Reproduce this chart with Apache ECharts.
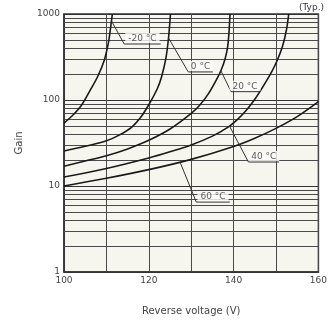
<!DOCTYPE html>
<html>
<head>
<meta charset="utf-8">
<script src="https://cdn.jsdelivr.net/npm/echarts@6.0.0/dist/echarts.min.js"></script>
<style>
html, body { margin: 0; padding: 0; background: #fff; }
#main { width: 330px; height: 329px; }
</style>
</head>
<body>
<div id="main"></div>
<script>
// curves (V, gain)
var voltM20 = [100, 102, 104, 106, 108, 109.5, 110.5, 111.0, 111.4];
var gainM20 = [54, 66, 85, 125, 190, 290, 470, 700, 1000];

var volt0 = [100, 105, 110, 113, 116, 118, 120, 122, 123, 124, 124.65, 125.1];
var gain0 = [25.5, 29, 33.5, 39, 48.5, 62, 88, 135, 185, 300, 526, 1000];

var volt20 = [100, 105, 110, 115, 120, 125, 130, 132, 134, 136, 137, 138, 138.6, 138.9, 139.15];
var gain20 = [17, 19.5, 22.5, 27, 34, 46, 70, 87, 117, 174, 219, 302, 417, 600, 1000];

var volt40 = [100, 110, 120, 125, 130, 135, 138.6, 141, 143, 145, 147, 149, 150.2, 151.5, 152.4, 153];
var gain40 = [12.7, 16, 21.2, 25, 30, 38, 48, 60, 76, 102, 145, 214, 282, 417, 630, 1000];

var volt60 = [100, 110, 120, 130, 140, 145, 150, 155, 160];
var gain60 = [10, 12.3, 15.5, 20.4, 28.8, 36, 46.8, 64, 95.5];

// callouts: leader from curve, corner, end of underline
var tempLabels = ['-20 °C', '0 °C', '20 °C', '40 °C', '60 °C'];
var leaderVolt = [[111.2, 114.2, 122.8], [124.65, 129.3, 135.1], [137.0, 139.4, 146.0], [139.0, 143.5, 150.7], [127.4, 131.2, 139.1]];
var leaderGain = [[830, 448, 448], [526, 212, 212], [219, 125, 125], [50, 19, 19], [18.8, 6.5, 6.5]];

var xLabels = [100, 120, 140, 160];
var yLabels = [1, 10, 100, 1000];

function zip(a, b) {
    var out = [];
    for (var i = 0; i < a.length; i++) out.push([a[i], b[i]]);
    return out;
}

// minor log grid lines 2..9 of every decade
var minorLines = [];
[1, 10, 100].forEach(function (d) {
    for (var k = 2; k <= 9; k++) minorLines.push({ yAxis: k * d });
});

var myChart = echarts.init(document.getElementById('main'));
var lineColor = '#4a4a4a';
var fontFam = 'DejaVu Sans';

var series = [];
series.push({
    type: 'line',
    data: [],
    z: 1,
    silent: true,
    markLine: {
        silent: true,
        symbol: ['none', 'none'],
        label: { show: false },
        lineStyle: { color: lineColor, width: 1, type: 'solid' },
        data: minorLines
    }
});

var curves = [[voltM20, gainM20], [volt0, gain0], [volt20, gain20], [volt40, gain40], [volt60, gain60]];
curves.forEach(function (c, i) {
    series.push({
        name: tempLabels[i],
        type: 'line',
        data: zip(c[0], c[1]),
        smooth: 0.35,
        symbol: 'none',
        z: 5,
        lineStyle: { color: '#1a1a1a', width: 1.6 }
    });
});

tempLabels.forEach(function (t, i) {
    series.push({
        type: 'line',
        data: zip(leaderVolt[i], leaderGain[i]),
        symbol: 'none',
        z: 6,
        lineStyle: { color: '#333', width: 1 }
    });
    var v = leaderVolt[i], g = leaderGain[i];
    series.push({
        type: 'scatter',
        symbolSize: 0,
        z: 7,
        data: [{ name: t, value: [(v[1] + v[2]) / 2, g[2]] }],
        label: {
            show: true,
            position: 'top',
            distance: 1,
            formatter: '{b}',
            color: '#333',
            fontSize: 9,
            fontFamily: fontFam,
            backgroundColor: '#fbfbf7',
            padding: [1, 3, 0, 3]
        }
    });
});

var option = {
    animation: false,
    title: {
        text: '(Typ.)',
        right: 1,
        top: -2,
        textStyle: { fontSize: 9, fontWeight: 'normal', color: '#334', fontFamily: fontFam }
    },
    grid: {
        left: 64,
        top: 14,
        width: 258,
        height: 258,
        show: true,
        backgroundColor: '#f7f6ee',
        borderColor: '#333',
        borderWidth: 1.5
    },
    xAxis: {
        type: 'value',
        min: 100,
        max: 160,
        interval: 10,
        name: 'Reverse voltage (V)',
        nameLocation: 'middle',
        nameGap: 34,
        nameTextStyle: { fontSize: 10, color: '#444', fontFamily: fontFam },
        axisLine: { lineStyle: { color: '#333', width: 1.5 } },
        axisTick: { show: false },
        axisLabel: {
            fontSize: 9,
            color: '#444',
            fontFamily: fontFam,
            margin: 4,
            formatter: function (v) { return xLabels.indexOf(v) >= 0 ? String(v) : ''; }
        },
        splitLine: { show: true, lineStyle: { color: lineColor, width: 1 } }
    },
    yAxis: {
        type: 'log',
        logBase: 10,
        min: 1,
        max: 1000,
        name: 'Gain',
        nameLocation: 'middle',
        nameRotate: 90,
        nameGap: 40,
        nameTextStyle: { fontSize: 10, color: '#444', fontFamily: fontFam },
        axisLine: { lineStyle: { color: '#333', width: 1.5 } },
        axisTick: { show: false },
        axisLabel: {
            fontSize: 9,
            color: '#444',
            fontFamily: fontFam,
            margin: 4,
            formatter: function (v) { return yLabels.indexOf(Math.round(v)) >= 0 ? String(Math.round(v)) : ''; }
        },
        splitLine: { show: true, lineStyle: { color: '#333', width: 1.2 } }
    },
    series: series
};

myChart.setOption(option);
</script>
</body>
</html>
